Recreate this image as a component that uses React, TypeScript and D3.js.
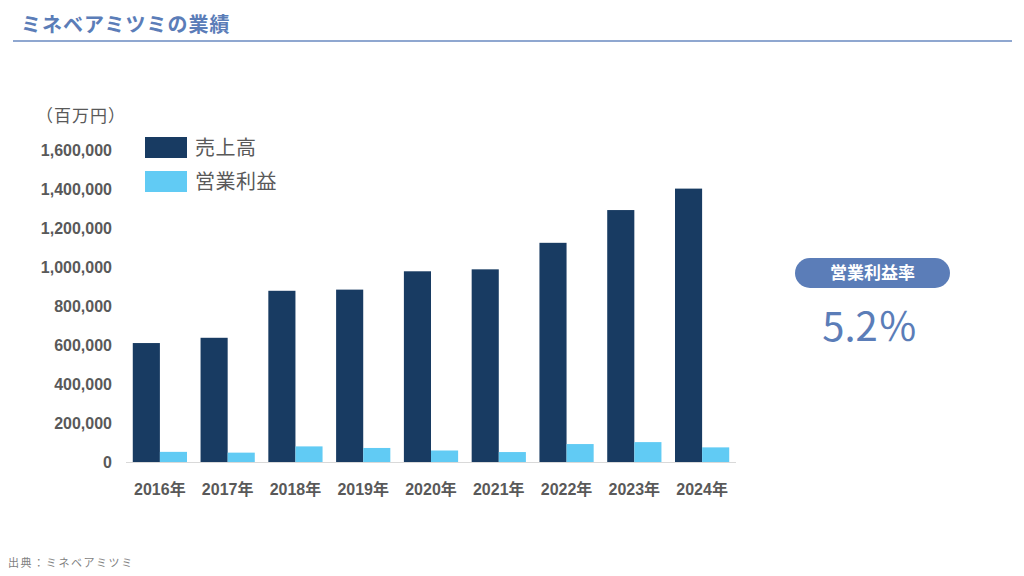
import * as d3 from "d3";

const years = ["2016年", "2017年", "2018年", "2019年", "2020年", "2021年", "2022年", "2023年", "2024年"];
const sales = [610000, 637000, 878000, 884000, 978000, 988000, 1124000, 1292000, 1402000];
const profit = [52000, 48000, 80000, 72000, 59000, 51000, 92000, 102000, 75000];
const yTicks = [0, 200000, 400000, 600000, 800000, 1000000, 1200000, 1400000, 1600000];
const seriesNames = ["売上高", "営業利益"];

const W = 1024, H = 576;
const DARK = "#183B62", LIGHT = "#61CBF4", ACCENT = "#5B7DB8", GRAY = "#595959";
const JP = "'Noto Sans CJK JP', 'Noto Sans', sans-serif";
const NUM = "'Liberation Sans', Arial, 'Noto Sans CJK JP', sans-serif";

export default function App() {
  const x = d3.scaleBand<string>().domain(years).range([126, 736]).paddingInner(0.2).paddingOuter(0.1);
  const y = d3.scaleLinear([0, 1600000], [462, 150]);
  const sub = d3.scaleBand<string>().domain(["s", "p"]).range([0, x.bandwidth()]);
  const fmt = d3.format(",");

  return (
    <div style={{ position: "fixed", left: 0, top: 0 }}>
      <svg width={W} height={H} style={{ display: "block", background: "#fff" }}>
        {/* header */}
        <text x={21} y={32} fontFamily={JP} fontSize={20} fontWeight={700} fill={ACCENT} letterSpacing={1}>
          ミネベアミツミの業績
        </text>
        <line x1={13} x2={1012} y1={41} y2={41} stroke="#8FA7D0" strokeWidth={2} />

        {/* unit */}
        <text x={81} y={122} textAnchor="middle" fontFamily={JP} fontSize={17} fill={GRAY} letterSpacing={1}>（百万円）</text>

        {/* y tick labels */}
        {yTicks.map((t) => (
          <text key={t} x={112} y={y(t)} dy="0.35em" textAnchor="end" fontFamily={NUM} fontSize={16} fontWeight={700} fill={GRAY}>
            {fmt(t)}
          </text>
        ))}

        {/* bars */}
        {years.map((yr, i) => (
          <g key={yr} transform={`translate(${x(yr)},0)`}>
            <rect x={sub("s")} y={y(sales[i])} width={sub.bandwidth()} height={y(0) - y(sales[i])} fill={DARK} />
            <rect x={sub("p")} y={y(profit[i])} width={sub.bandwidth()} height={y(0) - y(profit[i])} fill={LIGHT} />
            <text x={x.bandwidth() / 2} y={495} textAnchor="middle" fontFamily={NUM} fontSize={16} fontWeight={700} fill={GRAY}>
              {yr.replace("年", "")}
              <tspan fontFamily={JP}>年</tspan>
            </text>
          </g>
        ))}
        <line x1={126} x2={736} y1={462.5} y2={462.5} stroke="#D9D9D9" strokeWidth={1} />

        {/* legend */}
        {seriesNames.map((n, i) => (
          <g key={n} transform={`translate(145,${137 + i * 34})`}>
            <rect width={42} height={21} fill={i === 0 ? DARK : LIGHT} />
            <text x={50} y={11} dy="0.35em" fontFamily={JP} fontSize={20} fill={GRAY} letterSpacing={0.5}>{n}</text>
          </g>
        ))}

        {/* margin badge */}
        <rect x={795} y={258} width={155} height={30} rx={15} fill={ACCENT} />
        <text x={872.5} y={273} dy="0.36em" textAnchor="middle" fontFamily={JP} fontSize={17} fontWeight={700} fill="#fff">
          営業利益率
        </text>
        <text x={870} y={341} textAnchor="middle" fontFamily={JP} fontSize={40} fill={ACCENT}>5.2％</text>

        {/* source */}
        <text x={8} y={567} fontFamily={JP} fontSize={11} fill="#7F7F7F" letterSpacing={1.6}>出典：ミネベアミツミ</text>
      </svg>
    </div>
  );
}
